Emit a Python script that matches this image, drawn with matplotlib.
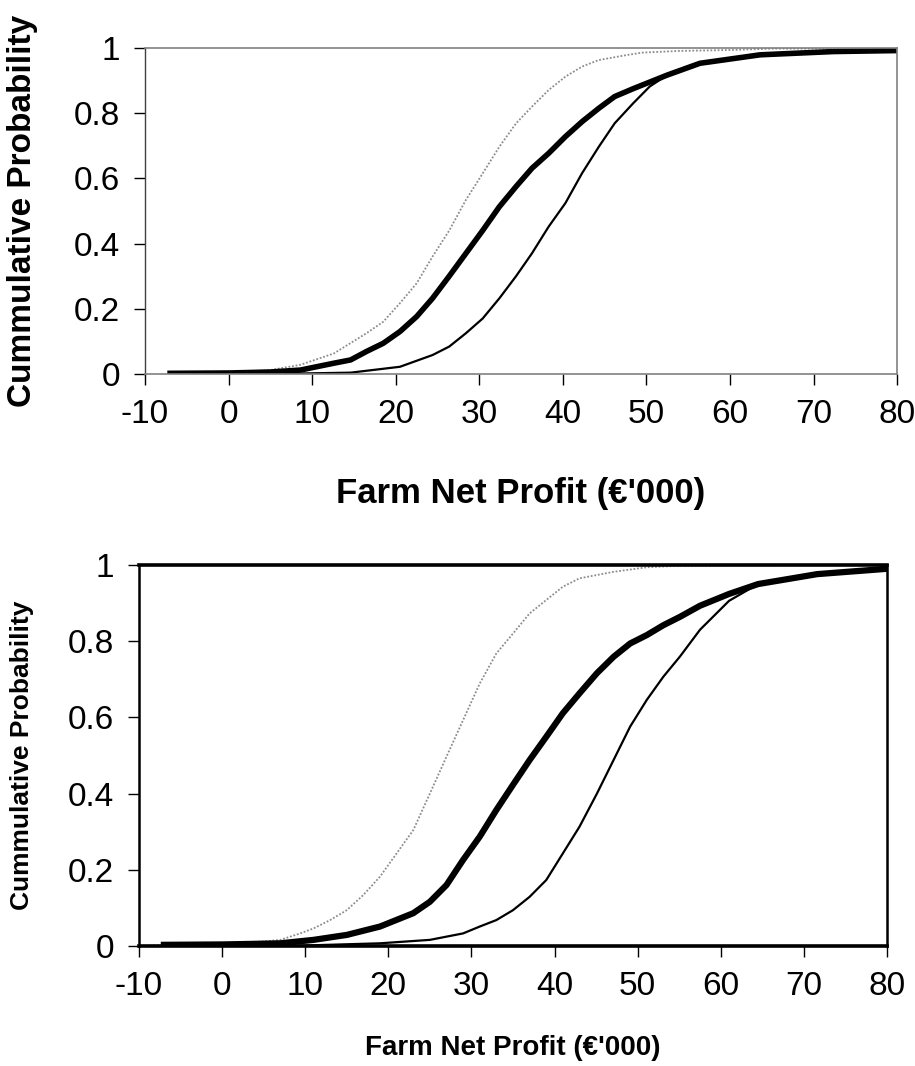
import matplotlib
matplotlib.use("Agg")
import matplotlib.pyplot as plt
from matplotlib.ticker import FormatStrFormatter

plt.rcParams["font.family"] = ["Liberation Sans", "DejaVu Sans"]
plt.rcParams["axes.unicode_minus"] = False

# top panel (profit in EUR '000, cumulative probability)
top_grey_x = [-1, 5, 8.6, 12.6, 16.5, 18.5, 20.5, 22.5, 24.4, 26.4, 28.4, 30.4, 32.4, 34.4, 36.3,
              38.3, 40.3, 42.3, 44.3, 47.8, 49.6, 54, 60.4, 65, 80]
top_grey_y = [0.002, 0.012, 0.028, 0.063, 0.125, 0.16, 0.217, 0.278, 0.36, 0.44, 0.534, 0.615, 0.697,
              0.769, 0.82, 0.871, 0.912, 0.943, 0.963, 0.979, 0.986, 0.991, 0.994, 0.998, 0.998]

top_thick_x = [-7, 0, 5, 8.6, 12.6, 14.6, 16.5, 18.5, 20.5, 22.5, 24.4, 26.4, 28.4, 30.4, 32.4, 34.4,
               36.3, 38.3, 40.3, 42.3, 44.3, 46.2, 48.4, 52.5, 56.4, 63.6, 72.4, 80]
top_thick_y = [0.002, 0.003, 0.006, 0.012, 0.033, 0.043, 0.069, 0.094, 0.13, 0.176, 0.232, 0.30, 0.37,
               0.44, 0.513, 0.575, 0.631, 0.677, 0.728, 0.774, 0.815, 0.851, 0.875, 0.917, 0.953,
               0.979, 0.989, 0.992]

top_thin_x = [5, 10, 14.6, 20.5, 24.4, 26.4, 28.4, 30.4, 32.4, 34.4, 36.3, 38.3, 40.3, 42.3, 44.3,
              46.2, 48.4, 50.4, 52.5]
top_thin_y = [0.0, 0.002, 0.004, 0.022, 0.058, 0.084, 0.125, 0.17, 0.232, 0.30, 0.37, 0.452, 0.524,
              0.616, 0.697, 0.769, 0.83, 0.882, 0.917]

# bottom panel
bot_grey_x = [-10, -7, 0, 5, 7, 9.4, 11, 13, 15, 17, 19, 21, 23, 25, 27, 29, 31, 33, 35, 37, 39,
              41, 43, 47.1, 51.1, 55.1, 72]
bot_grey_y = [0.0, 0.003, 0.006, 0.012, 0.016, 0.033, 0.046, 0.068, 0.094, 0.134, 0.182, 0.243,
              0.304, 0.40, 0.497, 0.593, 0.689, 0.768, 0.82, 0.873, 0.908, 0.943, 0.965, 0.982,
              0.994, 0.998, 1.0]

bot_thick_x = [-7, 0, 5, 7, 11, 15, 19, 23, 25, 27, 29, 31, 33, 35, 37, 39, 41, 43, 45.1, 47.1,
               49.1, 51.1, 53.1, 55.1, 57.5, 61, 64.5, 71.6, 80]
bot_thick_y = [0.003, 0.004, 0.006, 0.007, 0.016, 0.029, 0.051, 0.086, 0.116, 0.16, 0.226, 0.287,
               0.357, 0.423, 0.488, 0.549, 0.611, 0.663, 0.716, 0.759, 0.794, 0.816, 0.842, 0.864,
               0.893, 0.924, 0.95, 0.976, 0.99]

bot_thin_x = [8, 19, 25, 29, 31, 33, 35, 37, 39, 41, 43, 45.1, 47.1, 49.1, 51.1, 53.1, 55.1, 57.5,
              61, 64.5]
bot_thin_y = [0.0, 0.007, 0.016, 0.033, 0.051, 0.068, 0.094, 0.129, 0.173, 0.243, 0.313, 0.40,
              0.488, 0.576, 0.646, 0.707, 0.76, 0.83, 0.906, 0.95]

x_ticks = list(range(-10, 81, 10))
y_ticks = [0, 0.2, 0.4, 0.6, 0.8, 1.0]

fig = plt.figure(figsize=(9.15, 10.66), dpi=100)

# ---- top panel
ax1 = fig.add_axes([0.1585, 0.6492, 0.822, 0.3058])
ax1.plot(top_grey_x, top_grey_y, color="#8c8c8c", lw=1.3, ls=(0, (1, 1)))
ax1.plot(top_thin_x, top_thin_y, color="black", lw=1.6)
ax1.plot(top_thick_x, top_thick_y, color="black", lw=4.0)
for side in ["top", "right", "bottom"]:
    ax1.spines[side].set_color("#808080")
    ax1.spines[side].set_linewidth(1.2)
ax1.spines["left"].set_color("#404040")
ax1.spines["left"].set_linewidth(1.0)
ax1.set_ylabel("Cummulative Probability", fontsize=24, fontweight="bold")
ax1.yaxis.set_label_coords(-0.142, 0.5)
ax1.set_xlabel("Farm Net Profit (€'000)", fontsize=25, fontweight="bold", labelpad=34)

# ---- bottom panel
ax2 = fig.add_axes([0.1519, 0.1126, 0.8175, 0.3574])
ax2.plot(bot_grey_x, bot_grey_y, color="#8c8c8c", lw=1.3, ls=(0, (1, 1)))
ax2.plot(bot_thin_x, bot_thin_y, color="black", lw=1.6)
ax2.plot(bot_thick_x, bot_thick_y, color="black", lw=4.5)
for side in ["top", "bottom"]:
    ax2.spines[side].set_linewidth(2.6)
for side in ["left", "right"]:
    ax2.spines[side].set_linewidth(1.8)
ax2.set_ylabel("Cummulative Probability", fontsize=19, fontweight="bold")
ax2.yaxis.set_label_coords(-0.140, 0.5)
ax2.set_xlabel("Farm Net Profit (€'000)", fontsize=20, fontweight="bold", labelpad=24)

for ax in (ax1, ax2):
    ax.set_xlim(-10, 80)
    ax.set_ylim(0, 1)
    ax.set_xticks(x_ticks)
    ax.set_yticks(y_ticks)
    ax.yaxis.set_major_formatter(FormatStrFormatter("%g"))
    ax.tick_params(direction="out", length=8, width=1, pad=10, labelsize=24, colors="black")

fig.savefig("out.png", dpi=100)
